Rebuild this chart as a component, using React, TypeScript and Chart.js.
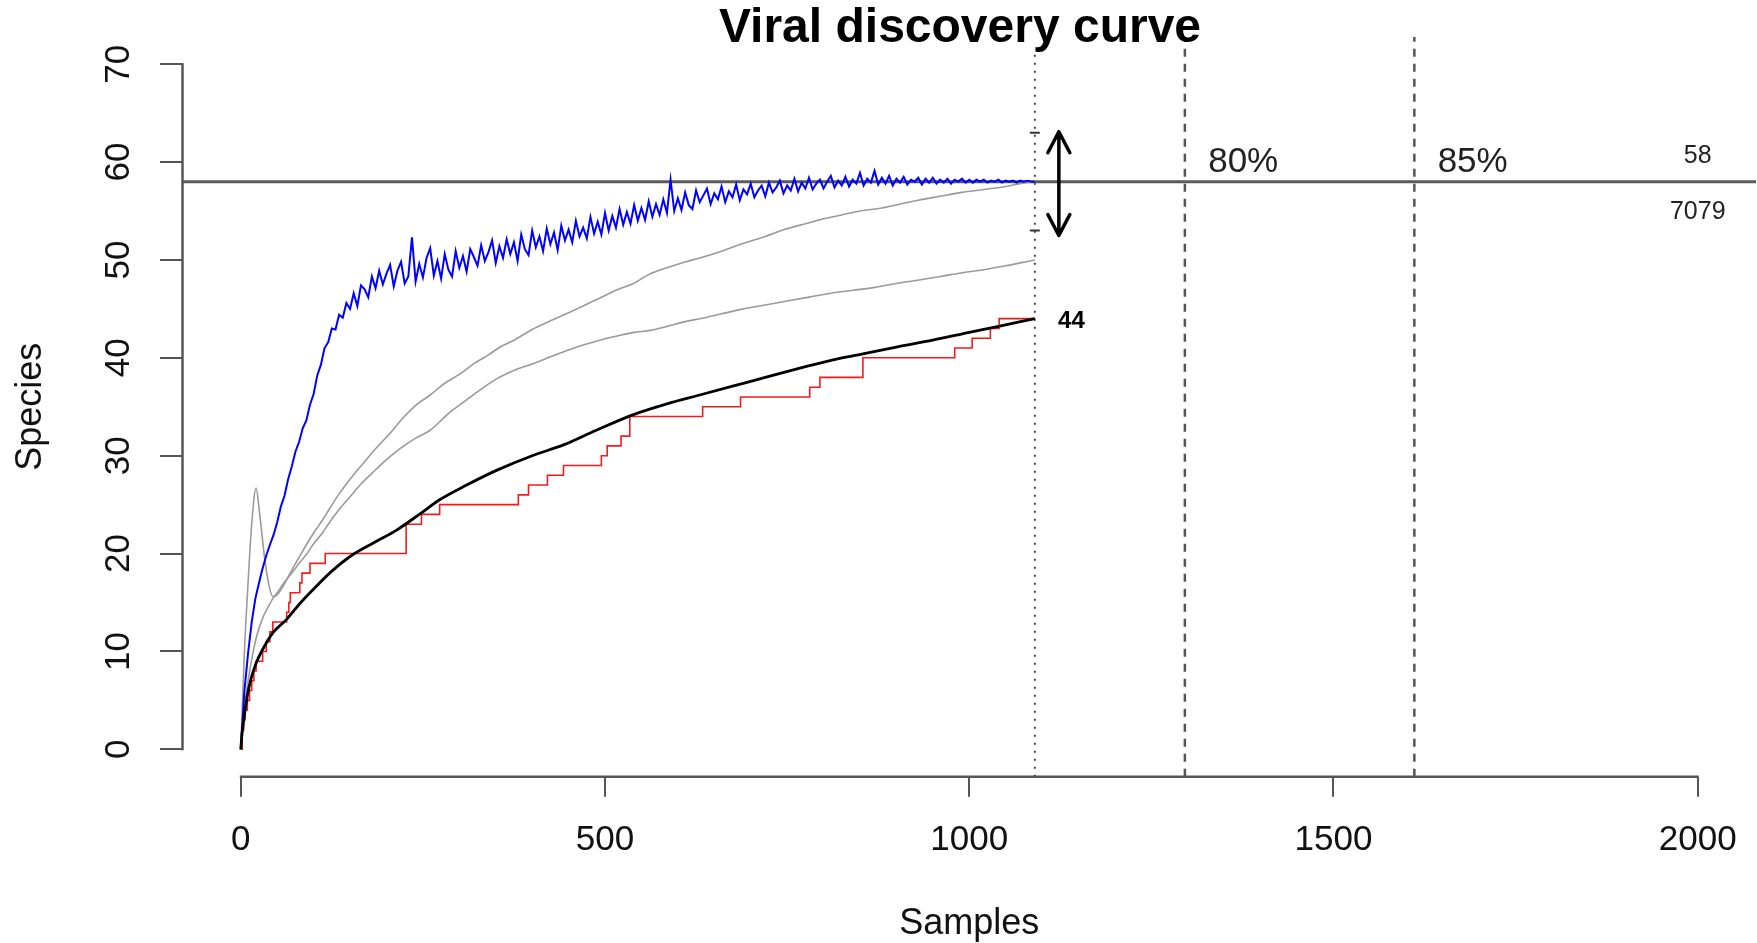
import React, { useEffect, useRef } from 'react';
import { Chart, registerables } from 'chart.js';

Chart.register(...registerables);

const W = 1757;
const H = 943;
const FONT = "'Liberation Sans', Arial, Helvetica, sans-serif";

// ---------- data ----------
const X_MIN = -80;
const X_MAX = 2080;
const Y_MIN = -2.8;
const Y_MAX = 72.8;
const X_TICKS = [0, 500, 1000, 1500, 2000];
const Y_TICKS = [0, 10, 20, 30, 40, 50, 60, 70];

const TITLE = 'Viral discovery curve';
const X_TITLE = 'Samples';
const Y_TITLE = 'Species';

// blue: one value every BLUE_STEP samples, from sample 0
const BLUE_STEP = 5;
const blueSpecies = [
  // 0 - 145
  0, 6.0, 9.8, 13.0, 15.4, 17.0, 18.5, 19.8, 20.9, 21.9,
  23.2, 24.8, 25.9, 27.6, 28.9, 30.4, 31.4, 32.8, 33.6, 35.2,
  36.3, 38.2, 39.3, 41.0, 41.6, 43.0, 42.9, 44.4, 44.1, 45.6,
  // 150 - 595
  45.0, 46.6, 45.3, 47.4, 47.0, 46.2, 48.3, 47.1, 48.9, 47.5,
  48.6, 49.5, 47.3, 48.9, 49.8, 47.6, 48.3, 52.3, 47.8, 49.6,
  48.2, 50.2, 51.2, 48.4, 49.9, 48.1, 50.6, 49.0, 48.3, 50.9,
  49.2, 50.4, 48.8, 51.1, 50.3, 49.4, 51.5, 49.9, 50.8, 52.0,
  49.7, 51.4, 50.2, 52.1, 50.6, 51.8, 49.9, 52.6, 51.1, 50.5,
  53.0, 51.3, 52.4, 50.9, 53.2, 51.6, 52.8, 51.0, 53.5, 52.0,
  53.1, 51.8, 54.0, 52.4, 53.3, 52.2, 54.4, 52.7, 53.9, 52.6,
  54.8, 53.0, 54.5, 53.3, 55.2, 53.6, 54.9, 53.7, 55.6, 54.0,
  55.3, 54.1, 56.0, 54.4, 55.7, 54.6, 56.2, 54.8, 58.2, 55.0,
  // 600 - 1090
  56.3, 55.1, 56.9, 55.6, 55.2, 57.1, 55.9, 56.6, 57.3, 55.7,
  56.8, 56.2, 57.5, 55.9, 57.0, 56.4, 57.7, 56.1, 57.2, 56.7,
  57.8, 56.4, 57.1, 57.6, 56.5, 57.9, 56.9, 57.4, 58.1, 56.8,
  57.6, 57.1, 58.3, 57.0, 57.9, 57.3, 58.4, 57.2, 57.8, 58.2,
  57.3, 58.0, 58.6, 57.4, 58.1, 57.6, 58.5, 57.5, 58.2, 57.8,
  58.9, 57.6, 58.3, 57.9, 59.1, 57.7, 58.4, 57.8, 58.6, 57.6,
  58.3, 57.9, 58.5, 57.7, 58.2, 58.0, 58.4, 57.7, 58.3, 57.9,
  58.4, 57.8, 58.2, 57.9, 58.3, 57.8, 58.2, 58.0, 58.3, 57.9,
  58.2, 57.9, 58.2, 58.0, 58.2, 57.9, 58.1, 58.0, 58.2, 57.9,
  58.1, 58.0, 58.1, 57.9, 58.1, 58.0, 58.1, 58.0, 58.0,
];

const grayUpperSamples = [
  0, 5, 10, 15, 21, 26, 32, 38, 44, 50, 60, 70, 80, 90, 100, 112, 122, 135, 150, 168,
  185, 205, 222, 241, 260, 280, 300, 320, 340, 356, 375, 400, 420, 447, 470, 490, 515, 539, 560, 585,
  610, 630, 660, 690, 720, 746, 775, 800, 825, 850, 880, 905, 930, 960, 990, 1020, 1050, 1070, 1090,
];
const grayUpperSpecies = [
  0, 10, 17, 23, 26.7, 24, 20, 17, 15.6, 15.8, 16.9, 18.3, 19.6, 20.9, 22.1, 23.4, 24.6, 26.1, 27.6, 29.2,
  30.7, 32.3, 33.8, 35.2, 36.2, 37.4, 38.3, 39.4, 40.3, 41.1, 41.8, 42.9, 43.6, 44.5, 45.3, 46.0, 46.9, 47.6, 48.5, 49.2,
  49.8, 50.2, 50.9, 51.7, 52.4, 53.1, 53.7, 54.2, 54.6, 55.0, 55.3, 55.7, 56.1, 56.5, 56.9, 57.2, 57.5, 57.8, 58.0,
];

const grayLowerSamples = [
  0, 5, 10, 16, 22, 30, 38, 44, 52, 60, 70, 80, 90, 100, 112, 122, 135, 150, 165, 180,
  200, 220, 240, 260, 285, 310, 330, 350, 375, 401, 425, 450, 470, 493, 515, 540, 562, 585, 610, 630,
  660, 690, 720, 750, 780, 810, 840, 870, 900, 927, 960, 990, 1020, 1050, 1070, 1090,
];
const grayLowerSpecies = [
  0, 4.2, 7.0, 9.6, 11.6, 13.4, 14.6, 15.4, 16.2, 17.1, 18.0, 19.0, 19.9, 21.0, 22.1, 23.2, 24.5, 25.8, 27.1, 28.2,
  29.6, 30.8, 31.8, 32.6, 34.3, 35.7, 36.8, 37.8, 38.7, 39.4, 40.1, 40.8, 41.3, 41.8, 42.2, 42.6, 42.8, 43.2, 43.7, 44.0,
  44.5, 45.0, 45.4, 45.8, 46.2, 46.6, 46.9, 47.2, 47.6, 47.9, 48.3, 48.7, 49.0, 49.4, 49.7, 50.0,
];

const blackSamples = [
  0, 2, 5, 9, 14, 21, 30, 44, 62, 80, 99, 125, 154, 185, 214, 245, 273, 310, 351, 400,
  443, 488, 539, 585, 630, 670, 720, 770, 813, 854, 900, 950, 1000, 1045, 1090,
];
const blackSpecies = [
  0, 1.8, 3.5, 5.5, 7.2, 8.8, 10.2, 11.9, 13.2, 14.8, 16.3, 18.2, 19.9, 21.2, 22.4, 24.0, 25.5, 27.0, 28.5, 30.0,
  31.1, 32.6, 34.2, 35.3, 36.2, 37.0, 38.0, 39.0, 39.8, 40.4, 41.1, 41.8, 42.6, 43.3, 44.0,
];

// red: observed step curve (new level starts at each sample)
const redSamples = [
  0, 2, 4, 6, 9, 12, 15, 18, 21, 30, 35, 40, 44, 63, 66, 68, 81, 84, 95, 116,
  227, 248, 273, 381, 395, 421, 443, 495, 503, 522, 534, 634, 686, 781, 795, 854, 980, 1004, 1029, 1041, 1090,
];
const redSpecies = [
  0, 2, 3, 4, 5, 6, 7, 8, 9, 10, 11, 12, 13, 14, 15, 16, 17, 18, 19, 20,
  23, 24, 25, 26, 27, 28, 29, 30, 31, 32, 34, 35, 36, 37, 38, 40, 41, 42, 43, 44, 44,
];

const SATURATION = 58;
const OBSERVED_END = 1090;
const OBSERVED_SPECIES = 44;
const ERROR_LIMITS = [63, 53];
const PCT_SAMPLES = [1296, 1611];
const PCT_LABELS = ['80%', '85%'];
const RIGHT_LABELS = ['58', '7079'];

// annotation anchors (data units)
const PCT_LABEL_OFFSET = 32;
const PCT_LABEL_Y = 59.0;
const RIGHT_LABEL_X = 2000;
const RIGHT_LABEL_Y = [59.9, 54.2];
const END_LABEL_X = 1122;
const END_LABEL_Y = 43.0;
const ARROW_X = 1123;
const ARROW_Y = [63.1, 52.5];
const DOTTED_TOP = 71.5;

const pairs = (xs: number[], ys: number[]) => xs.map((x, i) => ({ x, y: ys[i] }));

const annotationPlugin = {
  id: 'rAnnotations',
  afterDraw(chart: any) {
    const { ctx, chartArea } = chart;
    const x = chart.scales.x;
    const y = chart.scales.y;
    ctx.save();
    // axis lines spanning the tick range (R style)
    ctx.strokeStyle = '#555';
    ctx.lineWidth = 2.5;
    ctx.beginPath();
    ctx.moveTo(chartArea.left, y.getPixelForValue(Y_TICKS[0]) + 1);
    ctx.lineTo(chartArea.left, y.getPixelForValue(Y_TICKS[Y_TICKS.length - 1]) - 1);
    ctx.moveTo(x.getPixelForValue(X_TICKS[0]) - 1, chartArea.bottom);
    ctx.lineTo(x.getPixelForValue(X_TICKS[X_TICKS.length - 1]) + 1, chartArea.bottom);
    ctx.stroke();

    // title
    ctx.fillStyle = '#000';
    ctx.font = `bold 48px ${FONT}`;
    ctx.textAlign = 'center';
    ctx.textBaseline = 'alphabetic';
    ctx.fillText(TITLE, 960, 42);

    // percentage labels
    ctx.font = `35px ${FONT}`;
    ctx.textAlign = 'left';
    ctx.fillStyle = '#222';
    PCT_SAMPLES.forEach((s, i) => {
      ctx.fillText(PCT_LABELS[i], x.getPixelForValue(s + PCT_LABEL_OFFSET), y.getPixelForValue(PCT_LABEL_Y));
    });

    // right-hand labels
    ctx.font = `25px ${FONT}`;
    ctx.textAlign = 'center';
    RIGHT_LABELS.forEach((t, i) => {
      ctx.fillText(t, x.getPixelForValue(RIGHT_LABEL_X), y.getPixelForValue(RIGHT_LABEL_Y[i]));
    });

    // observed end label
    ctx.font = `bold 24px ${FONT}`;
    ctx.textAlign = 'left';
    ctx.fillStyle = '#000';
    ctx.fillText(String(OBSERVED_SPECIES), x.getPixelForValue(END_LABEL_X), y.getPixelForValue(END_LABEL_Y));

    // double arrow
    const ax = x.getPixelForValue(ARROW_X);
    const ay1 = y.getPixelForValue(ARROW_Y[0]);
    const ay2 = y.getPixelForValue(ARROW_Y[1]);
    ctx.strokeStyle = '#000';
    ctx.lineWidth = 3.5;
    ctx.lineCap = 'round';
    ctx.lineJoin = 'round';
    ctx.beginPath();
    ctx.moveTo(ax, ay1);
    ctx.lineTo(ax, ay2);
    ctx.moveTo(ax - 11, ay1 + 21);
    ctx.lineTo(ax, ay1);
    ctx.lineTo(ax + 11, ay1 + 21);
    ctx.moveTo(ax - 11, ay2 - 21);
    ctx.lineTo(ax, ay2);
    ctx.lineTo(ax + 11, ay2 - 21);
    ctx.stroke();
    ctx.restore();
  },
};

export default function App() {
  const ref = useRef<HTMLCanvasElement>(null);

  useEffect(() => {
    if (!ref.current) return;
    Chart.defaults.font.family = FONT;
    const blueData = blueSpecies.map((v, i) => ({ x: i * BLUE_STEP, y: v }));
    const chart = new Chart(ref.current, {
      type: 'line',
      data: {
        datasets: [
          {
            label: 'error',
            data: ERROR_LIMITS.map((v) => ({ x: OBSERVED_END, y: v })),
            showLine: false,
            pointStyle: 'line',
            pointRadius: 5,
            pointBorderWidth: 2,
            borderColor: '#333',
            backgroundColor: '#333',
          },
          {
            label: 'expected',
            data: pairs(blackSamples, blackSpecies),
            borderColor: '#000',
            borderWidth: 2.8,
            cubicInterpolationMode: 'monotone',
          },
          {
            label: 'observed',
            data: pairs(redSamples, redSpecies),
            borderColor: '#f01c1c',
            borderWidth: 1.6,
            stepped: 'before',
          },
          {
            label: 'estimate',
            data: blueData,
            borderColor: '#0000ff',
            borderWidth: 2,
          },
          {
            label: 'upper',
            data: pairs(grayUpperSamples, grayUpperSpecies),
            borderColor: '#9a9a9a',
            borderWidth: 1.6,
            cubicInterpolationMode: 'monotone',
          },
          {
            label: 'lower',
            data: pairs(grayLowerSamples, grayLowerSpecies),
            borderColor: '#9a9a9a',
            borderWidth: 1.6,
            cubicInterpolationMode: 'monotone',
          },
          {
            label: 'saturation',
            data: [{ x: X_MIN, y: SATURATION }, { x: X_MAX, y: SATURATION }],
            borderColor: '#5a5a5a',
            borderWidth: 3,
          },
          {
            label: 'end',
            data: [{ x: OBSERVED_END, y: Y_MIN }, { x: OBSERVED_END, y: DOTTED_TOP }],
            borderColor: '#444',
            borderWidth: 2,
            borderDash: [2, 6],
          },
          ...PCT_SAMPLES.map((s, i) => ({
            label: PCT_LABELS[i],
            data: [{ x: s, y: Y_MIN }, { x: s, y: Y_MAX }],
            borderColor: '#555',
            borderWidth: 2.5,
            borderDash: [8, 7],
          })),
        ],
      },
      options: {
        responsive: false,
        animation: false,
        devicePixelRatio: 1,
        layout: { autoPadding: false, padding: { top: 36.8, right: 1, left: 0, bottom: 0 } },
        elements: {
          point: { radius: 0 },
          line: { tension: 0, fill: false },
        },
        plugins: {
          legend: { display: false },
          tooltip: { enabled: false },
          title: { display: false },
        },
        scales: {
          x: {
            type: 'linear',
            min: X_MIN,
            max: X_MAX,
            afterBuildTicks: (s: any) => {
              s.ticks = X_TICKS.map((v) => ({ value: v }));
            },
            ticks: {
              autoSkip: false,
              minRotation: 0,
              maxRotation: 0,
              padding: 23,
              color: '#111',
              font: { size: 35 },
              callback: (v: any) => String(v),
            },
            grid: {
              drawOnChartArea: false,
              drawTicks: true,
              tickLength: 20,
              color: '#555',
              lineWidth: 2,
            },
            border: { display: false },
            title: {
              display: true,
              text: X_TITLE,
              color: '#111',
              font: { size: 36, lineHeight: 1 },
              padding: { top: 0, bottom: 1 },
            },
            afterFit: (s: any) => {
              s.height = 166.3;
              s.paddingLeft = 0;
              s.paddingRight = 0;
            },
          },
          y: {
            type: 'linear',
            min: Y_MIN,
            max: Y_MAX,
            afterBuildTicks: (s: any) => {
              s.ticks = Y_TICKS.map((v) => ({ value: v }));
            },
            ticks: {
              autoSkip: false,
              minRotation: 90,
              maxRotation: 90,
              crossAlign: 'center',
              padding: 21.5,
              color: '#111',
              font: { size: 35 },
              callback: (v: any) => String(v),
            },
            grid: {
              drawOnChartArea: false,
              drawTicks: true,
              tickLength: 22.5,
              color: '#555',
              lineWidth: 2,
            },
            border: { display: false },
            title: {
              display: true,
              text: Y_TITLE,
              color: '#111',
              font: { size: 36, lineHeight: 1 },
              padding: { top: 13.5, bottom: 0 },
            },
            afterFit: (s: any) => {
              s.width = 182.5;
              s.paddingTop = 0;
              s.paddingBottom = 0;
            },
          },
        },
      },
      plugins: [annotationPlugin],
    } as any);
    return () => chart.destroy();
  }, []);

  return (
    <div style={{ position: 'fixed', left: 0, top: 0, width: W, height: H, background: '#fff' }}>
      <canvas ref={ref} width={W} height={H} style={{ display: 'block', width: W, height: H }} />
    </div>
  );
}
